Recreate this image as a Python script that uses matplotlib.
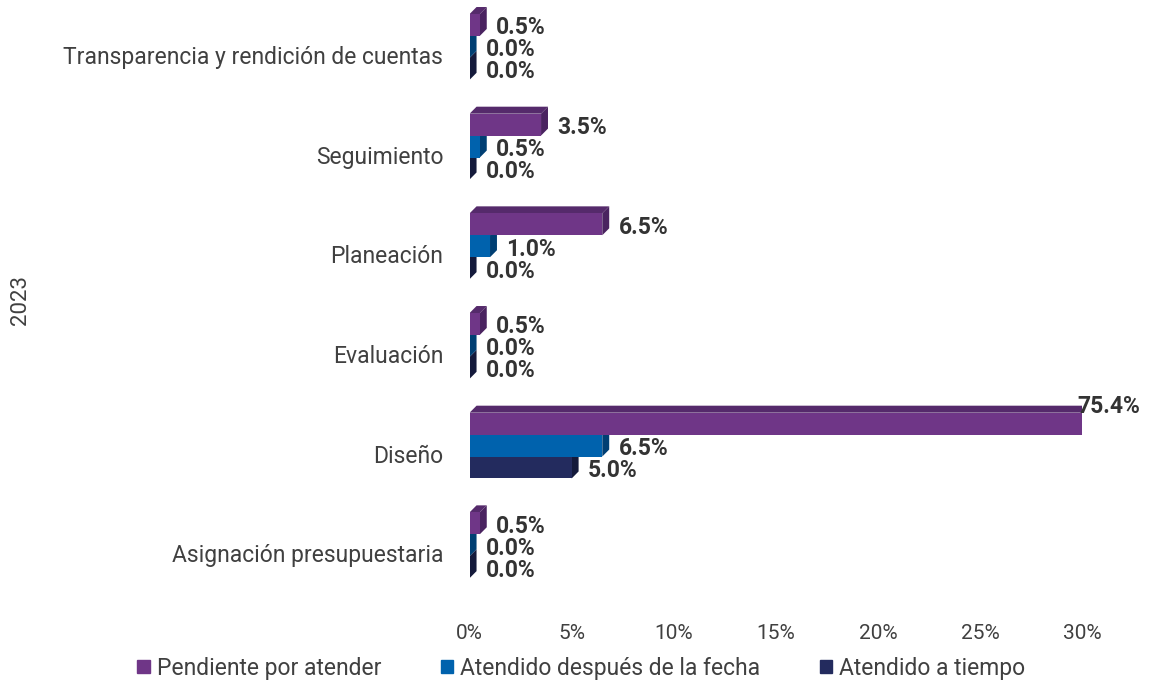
import matplotlib
matplotlib.use("Agg")
from matplotlib import pyplot as plt
from matplotlib.patches import Polygon, Patch
import numpy as np

plt.rcParams['font.family'] = ['Roboto', 'DejaVu Sans']

categories = ["Asignación presupuestaria", "Diseño", "Evaluación",
              "Planeación", "Seguimiento", "Transparencia y rendición de cuentas"]
series_names = ["Pendiente por atender", "Atendido después de la fecha", "Atendido a tiempo"]
pendiente = [0.5, 75.4, 0.5, 6.5, 3.5, 0.5]
despues = [0.0, 6.5, 0.0, 1.0, 0.5, 0.0]
a_tiempo = [0.0, 5.0, 0.0, 0.0, 0.0, 0.0]
year_label = "2023"

front = ["#6f3687", "#0062ad", "#232b5e"]
top = ["#552a6b", "#004a85", "#1a2047"]
side = ["#4a2360", "#003f73", "#141a3b"]

xmax = 30.0
h = 0.22
dx = 0.34   # depth in data units (x, %)
dy = 0.07   # depth in data units (y)
offsets = [0.30, 0.08, -0.14]

fig = plt.figure(figsize=(11.51, 6.88), dpi=100)
ax = fig.add_axes([0.408, 0.1235, 0.532, 0.8692])

values = [pendiente, despues, a_tiempo]
y = np.arange(len(categories))
# draw bottom series first so upper bars overlap them
for s in [2, 1, 0]:
    for i, v in enumerate(values[s]):
        yc = y[i] + offsets[s]
        w = min(v, xmax)
        y0, y1 = yc - h / 2, yc + h / 2
        ax.add_patch(Polygon([(0, y1), (w, y1), (w + dx, y1 + dy), (dx, y1 + dy)],
                             closed=True, fc=top[s], ec="none", zorder=2 + (2 - s) * 3))
        ax.add_patch(Polygon([(w, y0), (w + dx, y0 + dy), (w + dx, y1 + dy), (w, y1)],
                             closed=True, fc=side[s], ec="none", zorder=2 + (2 - s) * 3))
        ax.barh(yc, w, height=h, color=front[s], zorder=3 + (2 - s) * 3)
        if v > xmax:
            ax.text(xmax - 0.2, y1 + dy * 0.9, f"{v:.1f}%", ha="left", va="center",
                    fontsize=16.5, fontweight="bold", color="#333333", zorder=20)
        else:
            ax.text(w + dx + 0.45, yc - 0.03, f"{v:.1f}%", ha="left", va="center",
                    fontsize=16.5, fontweight="bold", color="#333333", zorder=20)

ax.set_xlim(0, xmax)
ax.set_ylim(-0.5, len(categories) - 0.5)
ax.set_xticks(np.arange(0, 31, 5))
ax.set_xticklabels([f"{t}%" for t in range(0, 31, 5)])
ax.set_yticks(y)
ax.set_yticklabels(categories)
ax.tick_params(axis="y", length=0, pad=19, labelsize=16.5, labelcolor="#404040")
ax.tick_params(axis="x", length=0, pad=15, labelsize=15, labelcolor="#404040")
for sp in ax.spines.values():
    sp.set_visible(False)

fig.text(0.018, 0.564, year_label, rotation=90, ha="center", va="center",
         fontsize=16, color="#404040")

handles = [Patch(color=front[k], label=series_names[k]) for k in range(3)]
fig.legend(handles=handles, loc="center", bbox_to_anchor=(0.505, 0.029), ncol=3,
           frameon=False, fontsize=16.5, handlelength=0.55, handleheight=0.55,
           handletextpad=0.3, columnspacing=2.6, labelcolor="#404040")

fig.savefig("out.png", dpi=100)
